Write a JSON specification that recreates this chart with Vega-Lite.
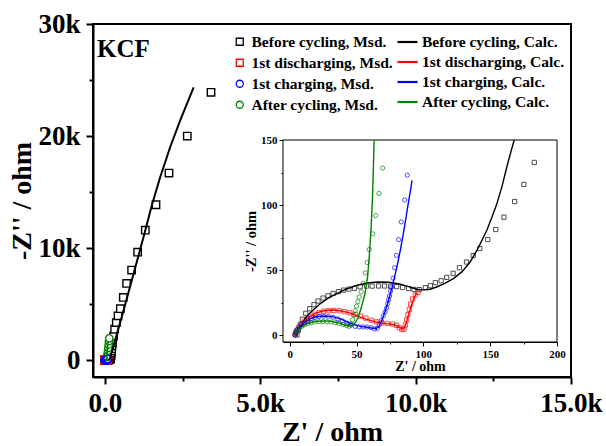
{
"$schema":"https://vega.github.io/schema/vega-lite/v6.json",
"width":478,"height":353,
"autosize":{"type":"none"},
"padding":{"left":93,"top":24,"right":35,"bottom":69},
"background":"white",
"config":{"view":{"stroke":"black","strokeWidth":2},"font":"Liberation Serif",
 "axis":{"grid":false,"domainColor":"black","tickColor":"black","labelColor":"black","titleColor":"black","labelFont":"Liberation Serif","titleFont":"Liberation Serif","labelFontWeight":"bold","titleFontWeight":"bold","labelOverlap":false,"labelBound":false,"labelFlush":false},
 "legend":{"labelFont":"Liberation Serif","labelFontWeight":"bold","labelColor":"black","labelLimit":0}},
"data":{"values":[
{"s":"Before cycling, Msd.","x":5.5,"y":0.5},{"s":"Before cycling, Msd.","x":6.5,"y":4},{"s":"Before cycling, Msd.","x":8,"y":8.5},{"s":"Before cycling, Msd.","x":9.5,"y":12.5},{"s":"Before cycling, Msd.","x":12,"y":17},{"s":"Before cycling, Msd.","x":15,"y":20.5},{"s":"Before cycling, Msd.","x":18.2,"y":23.6},{"s":"Before cycling, Msd.","x":21.2,"y":26.4},{"s":"Before cycling, Msd.","x":25,"y":28.7},{"s":"Before cycling, Msd.","x":28.7,"y":30.5},{"s":"Before cycling, Msd.","x":32.5,"y":32.3},{"s":"Before cycling, Msd.","x":36.5,"y":33.6},{"s":"Before cycling, Msd.","x":40.3,"y":34.8},{"s":"Before cycling, Msd.","x":44.3,"y":35.6},{"s":"Before cycling, Msd.","x":48.5,"y":36.2},{"s":"Before cycling, Msd.","x":52.7,"y":37.4},{"s":"Before cycling, Msd.","x":57.5,"y":37.9},{"s":"Before cycling, Msd.","x":61.7,"y":37.9},{"s":"Before cycling, Msd.","x":66.5,"y":38},{"s":"Before cycling, Msd.","x":71,"y":38},{"s":"Before cycling, Msd.","x":75.5,"y":37.8},{"s":"Before cycling, Msd.","x":80,"y":37.5},{"s":"Before cycling, Msd.","x":84.5,"y":36.8},{"s":"Before cycling, Msd.","x":89,"y":36},{"s":"Before cycling, Msd.","x":93,"y":35.3},{"s":"Before cycling, Msd.","x":97,"y":35.2},{"s":"Before cycling, Msd.","x":101.5,"y":36.7},{"s":"Before cycling, Msd.","x":105.3,"y":38.2},{"s":"Before cycling, Msd.","x":109,"y":40.5},{"s":"Before cycling, Msd.","x":113.3,"y":42},{"s":"Before cycling, Msd.","x":117.5,"y":44.6},{"s":"Before cycling, Msd.","x":122.3,"y":47.7},{"s":"Before cycling, Msd.","x":127,"y":52},{"s":"Before cycling, Msd.","x":132.3,"y":56.4},{"s":"Before cycling, Msd.","x":137.3,"y":61.3},{"s":"Before cycling, Msd.","x":142.2,"y":66.7},{"s":"Before cycling, Msd.","x":148.2,"y":73.6},{"s":"Before cycling, Msd.","x":154.2,"y":81.3},{"s":"Before cycling, Msd.","x":160.3,"y":90.8},{"s":"Before cycling, Msd.","x":168.3,"y":102.8},{"s":"Before cycling, Msd.","x":175.2,"y":115.9},{"s":"Before cycling, Msd.","x":183,"y":132.8},{"s":"Before cycling, Msd.","x":184,"y":155},{"s":"Before cycling, Msd.","x":185,"y":185},{"s":"Before cycling, Msd.","x":187,"y":225},{"s":"Before cycling, Msd.","x":189,"y":275},{"s":"Before cycling, Msd.","x":191.5,"y":340},{"s":"Before cycling, Msd.","x":195,"y":420},{"s":"Before cycling, Msd.","x":199,"y":520},{"s":"Before cycling, Msd.","x":204,"y":650},{"s":"Before cycling, Msd.","x":211,"y":820},{"s":"Before cycling, Msd.","x":220,"y":1030},{"s":"Before cycling, Msd.","x":230,"y":1290},{"s":"Before cycling, Msd.","x":241,"y":1550},{"s":"Before cycling, Msd.","x":251,"y":1790},{"s":"Before cycling, Msd.","x":283,"y":2140},{"s":"Before cycling, Msd.","x":316,"y":2770},{"s":"Before cycling, Msd.","x":370,"y":3360},{"s":"Before cycling, Msd.","x":425,"y":3960},{"s":"Before cycling, Msd.","x":500,"y":4600},{"s":"Before cycling, Msd.","x":595,"y":5600},{"s":"Before cycling, Msd.","x":702,"y":6850},{"s":"Before cycling, Msd.","x":863,"y":8040},{"s":"Before cycling, Msd.","x":1056,"y":9640},{"s":"Before cycling, Msd.","x":1303,"y":11600},{"s":"Before cycling, Msd.","x":1647,"y":13870},{"s":"Before cycling, Msd.","x":2065,"y":16700},{"s":"Before cycling, Msd.","x":2654,"y":20000},{"s":"Before cycling, Msd.","x":3417,"y":23900},
{"s":"1st discharging, Msd.","x":4,"y":0.5},{"s":"1st discharging, Msd.","x":4.5,"y":2},{"s":"1st discharging, Msd.","x":5.5,"y":4},{"s":"1st discharging, Msd.","x":7,"y":6.5},{"s":"1st discharging, Msd.","x":9,"y":9},{"s":"1st discharging, Msd.","x":11,"y":11},{"s":"1st discharging, Msd.","x":13.5,"y":13},{"s":"1st discharging, Msd.","x":16,"y":14.8},{"s":"1st discharging, Msd.","x":19,"y":16.3},{"s":"1st discharging, Msd.","x":22,"y":17.5},{"s":"1st discharging, Msd.","x":25.5,"y":18.5},{"s":"1st discharging, Msd.","x":29,"y":19},{"s":"1st discharging, Msd.","x":33,"y":19.2},{"s":"1st discharging, Msd.","x":37,"y":19},{"s":"1st discharging, Msd.","x":41,"y":18.3},{"s":"1st discharging, Msd.","x":45,"y":17.4},{"s":"1st discharging, Msd.","x":49,"y":16.2},{"s":"1st discharging, Msd.","x":53,"y":14.8},{"s":"1st discharging, Msd.","x":57,"y":13.3},{"s":"1st discharging, Msd.","x":61,"y":11.8},{"s":"1st discharging, Msd.","x":65,"y":10.5},{"s":"1st discharging, Msd.","x":69,"y":9.6},{"s":"1st discharging, Msd.","x":73,"y":9.2},{"s":"1st discharging, Msd.","x":77,"y":8.8},{"s":"1st discharging, Msd.","x":80,"y":7.8},{"s":"1st discharging, Msd.","x":82,"y":6},{"s":"1st discharging, Msd.","x":84,"y":4.6},{"s":"1st discharging, Msd.","x":85.5,"y":5},{"s":"1st discharging, Msd.","x":86.5,"y":8},{"s":"1st discharging, Msd.","x":87.5,"y":12},{"s":"1st discharging, Msd.","x":88.5,"y":16},{"s":"1st discharging, Msd.","x":89.5,"y":20},{"s":"1st discharging, Msd.","x":90.5,"y":24},{"s":"1st discharging, Msd.","x":92,"y":28},{"s":"1st discharging, Msd.","x":94,"y":31},{"s":"1st discharging, Msd.","x":96,"y":33},
{"s":"After cycling, Msd.","x":4,"y":0.5},{"s":"After cycling, Msd.","x":4.5,"y":2},{"s":"After cycling, Msd.","x":5.5,"y":3.8},{"s":"After cycling, Msd.","x":7,"y":5.5},{"s":"After cycling, Msd.","x":9,"y":7},{"s":"After cycling, Msd.","x":11,"y":8.2},{"s":"After cycling, Msd.","x":13.5,"y":9.2},{"s":"After cycling, Msd.","x":16,"y":9.8},{"s":"After cycling, Msd.","x":19,"y":10.3},{"s":"After cycling, Msd.","x":22,"y":10.6},{"s":"After cycling, Msd.","x":25,"y":10.7},{"s":"After cycling, Msd.","x":28,"y":10.6},{"s":"After cycling, Msd.","x":31,"y":10.3},{"s":"After cycling, Msd.","x":34,"y":9.8},{"s":"After cycling, Msd.","x":37,"y":9.2},{"s":"After cycling, Msd.","x":40,"y":8.4},{"s":"After cycling, Msd.","x":42.5,"y":7.6},{"s":"After cycling, Msd.","x":44.5,"y":7},{"s":"After cycling, Msd.","x":46,"y":9},{"s":"After cycling, Msd.","x":47,"y":12},{"s":"After cycling, Msd.","x":48,"y":15.5},{"s":"After cycling, Msd.","x":49,"y":19},{"s":"After cycling, Msd.","x":50,"y":22.5},{"s":"After cycling, Msd.","x":51,"y":26},{"s":"After cycling, Msd.","x":52,"y":29.5},{"s":"After cycling, Msd.","x":53.5,"y":33.5},{"s":"After cycling, Msd.","x":55,"y":40},{"s":"After cycling, Msd.","x":56.5,"y":48},{"s":"After cycling, Msd.","x":58,"y":56},{"s":"After cycling, Msd.","x":59.5,"y":66},{"s":"After cycling, Msd.","x":62,"y":78},{"s":"After cycling, Msd.","x":64.3,"y":92},{"s":"After cycling, Msd.","x":66.8,"y":109},{"s":"After cycling, Msd.","x":69.5,"y":128.5},{"s":"After cycling, Msd.","x":73,"y":160},{"s":"After cycling, Msd.","x":78,"y":230},{"s":"After cycling, Msd.","x":84,"y":330},{"s":"After cycling, Msd.","x":91,"y":470},{"s":"After cycling, Msd.","x":98,"y":640},{"s":"After cycling, Msd.","x":106,"y":850},{"s":"After cycling, Msd.","x":115,"y":1100},{"s":"After cycling, Msd.","x":125,"y":1400},{"s":"After cycling, Msd.","x":135,"y":1700},{"s":"After cycling, Msd.","x":145,"y":1950},
{"s":"1st charging, Msd.","x":4,"y":0.5},{"s":"1st charging, Msd.","x":4.5,"y":2.5},{"s":"1st charging, Msd.","x":5.5,"y":4.5},{"s":"1st charging, Msd.","x":7,"y":6.5},{"s":"1st charging, Msd.","x":9,"y":8.5},{"s":"1st charging, Msd.","x":11,"y":10},{"s":"1st charging, Msd.","x":13.5,"y":11.5},{"s":"1st charging, Msd.","x":16,"y":12.8},{"s":"1st charging, Msd.","x":19,"y":13.8},{"s":"1st charging, Msd.","x":22,"y":14.5},{"s":"1st charging, Msd.","x":25.5,"y":14.8},{"s":"1st charging, Msd.","x":29,"y":14.6},{"s":"1st charging, Msd.","x":32.5,"y":14},{"s":"1st charging, Msd.","x":36,"y":12.8},{"s":"1st charging, Msd.","x":39.5,"y":11.2},{"s":"1st charging, Msd.","x":43,"y":9.5},{"s":"1st charging, Msd.","x":46,"y":8},{"s":"1st charging, Msd.","x":49,"y":7},{"s":"1st charging, Msd.","x":52,"y":6.6},{"s":"1st charging, Msd.","x":55,"y":6.6},{"s":"1st charging, Msd.","x":58,"y":6.5},{"s":"1st charging, Msd.","x":61,"y":6},{"s":"1st charging, Msd.","x":63.5,"y":5},{"s":"1st charging, Msd.","x":65.5,"y":5.5},{"s":"1st charging, Msd.","x":67,"y":8},{"s":"1st charging, Msd.","x":68.5,"y":11.5},{"s":"1st charging, Msd.","x":70,"y":15},{"s":"1st charging, Msd.","x":71.3,"y":18},{"s":"1st charging, Msd.","x":72.5,"y":21},{"s":"1st charging, Msd.","x":73.3,"y":24.4},{"s":"1st charging, Msd.","x":74,"y":27.5},{"s":"1st charging, Msd.","x":74.7,"y":30.3},{"s":"1st charging, Msd.","x":75.5,"y":34},{"s":"1st charging, Msd.","x":76.3,"y":37.2},{"s":"1st charging, Msd.","x":77.3,"y":44},{"s":"1st charging, Msd.","x":78.5,"y":52},{"s":"1st charging, Msd.","x":79.8,"y":61.5},{"s":"1st charging, Msd.","x":81.5,"y":73.6},{"s":"1st charging, Msd.","x":83.5,"y":87.2},{"s":"1st charging, Msd.","x":86,"y":104},{"s":"1st charging, Msd.","x":88,"y":123},
{"s":"Before cycling, Calc.","x":5,"y":0},{"s":"Before cycling, Calc.","x":6.5,"y":4},{"s":"Before cycling, Calc.","x":8.5,"y":8},{"s":"Before cycling, Calc.","x":11,"y":12},{"s":"Before cycling, Calc.","x":14,"y":16},{"s":"Before cycling, Calc.","x":18,"y":20},{"s":"Before cycling, Calc.","x":23,"y":24.5},{"s":"Before cycling, Calc.","x":29,"y":28.8},{"s":"Before cycling, Calc.","x":35,"y":32},{"s":"Before cycling, Calc.","x":42,"y":35.5},{"s":"Before cycling, Calc.","x":50,"y":38.5},{"s":"Before cycling, Calc.","x":58,"y":40.3},{"s":"Before cycling, Calc.","x":66,"y":41},{"s":"Before cycling, Calc.","x":74,"y":40.8},{"s":"Before cycling, Calc.","x":82,"y":39.5},{"s":"Before cycling, Calc.","x":89,"y":37.5},{"s":"Before cycling, Calc.","x":95,"y":35.5},{"s":"Before cycling, Calc.","x":100,"y":35},{"s":"Before cycling, Calc.","x":105,"y":35.5},{"s":"Before cycling, Calc.","x":110,"y":37.2},{"s":"Before cycling, Calc.","x":116,"y":40},{"s":"Before cycling, Calc.","x":122.5,"y":43.6},{"s":"Before cycling, Calc.","x":129,"y":49},{"s":"Before cycling, Calc.","x":135,"y":56.4},{"s":"Before cycling, Calc.","x":141,"y":67},{"s":"Before cycling, Calc.","x":147.5,"y":80.8},{"s":"Before cycling, Calc.","x":151,"y":90},{"s":"Before cycling, Calc.","x":155,"y":101},{"s":"Before cycling, Calc.","x":159,"y":115},{"s":"Before cycling, Calc.","x":162.5,"y":129.5},{"s":"Before cycling, Calc.","x":165.5,"y":141},{"s":"Before cycling, Calc.","x":168,"y":150},{"s":"Before cycling, Calc.","x":250,"y":950},{"s":"Before cycling, Calc.","x":400,"y":2450},{"s":"Before cycling, Calc.","x":605,"y":4464},{"s":"Before cycling, Calc.","x":927,"y":7740},{"s":"Before cycling, Calc.","x":1249,"y":11010},{"s":"Before cycling, Calc.","x":1518,"y":13870},{"s":"Before cycling, Calc.","x":1786,"y":16370},{"s":"Before cycling, Calc.","x":2107,"y":19050},{"s":"Before cycling, Calc.","x":2429,"y":21430},{"s":"Before cycling, Calc.","x":2858,"y":24350},
{"s":"1st discharging, Calc.","x":4,"y":0},{"s":"1st discharging, Calc.","x":5.5,"y":3.5},{"s":"1st discharging, Calc.","x":8,"y":7.5},{"s":"1st discharging, Calc.","x":11,"y":11},{"s":"1st discharging, Calc.","x":15,"y":14.5},{"s":"1st discharging, Calc.","x":20,"y":17.3},{"s":"1st discharging, Calc.","x":26,"y":19},{"s":"1st discharging, Calc.","x":32,"y":19.5},{"s":"1st discharging, Calc.","x":38,"y":19},{"s":"1st discharging, Calc.","x":44,"y":17.5},{"s":"1st discharging, Calc.","x":50,"y":15.3},{"s":"1st discharging, Calc.","x":56,"y":13},{"s":"1st discharging, Calc.","x":62,"y":11},{"s":"1st discharging, Calc.","x":68,"y":9.6},{"s":"1st discharging, Calc.","x":74,"y":8.9},{"s":"1st discharging, Calc.","x":79,"y":8},{"s":"1st discharging, Calc.","x":82,"y":6.3},{"s":"1st discharging, Calc.","x":84,"y":5.2},{"s":"1st discharging, Calc.","x":85.5,"y":5.5},{"s":"1st discharging, Calc.","x":87,"y":9},{"s":"1st discharging, Calc.","x":89,"y":16},{"s":"1st discharging, Calc.","x":91,"y":23},{"s":"1st discharging, Calc.","x":93,"y":28.5},{"s":"1st discharging, Calc.","x":95,"y":33},
{"s":"1st charging, Calc.","x":4,"y":0},{"s":"1st charging, Calc.","x":5.5,"y":3.5},{"s":"1st charging, Calc.","x":8,"y":7},{"s":"1st charging, Calc.","x":11,"y":10},{"s":"1st charging, Calc.","x":15,"y":12.8},{"s":"1st charging, Calc.","x":20,"y":14.4},{"s":"1st charging, Calc.","x":26,"y":15},{"s":"1st charging, Calc.","x":32,"y":14.5},{"s":"1st charging, Calc.","x":38,"y":12.8},{"s":"1st charging, Calc.","x":43,"y":10.5},{"s":"1st charging, Calc.","x":48,"y":8.3},{"s":"1st charging, Calc.","x":53,"y":7},{"s":"1st charging, Calc.","x":58,"y":6.3},{"s":"1st charging, Calc.","x":62,"y":5.6},{"s":"1st charging, Calc.","x":64.5,"y":5.3},{"s":"1st charging, Calc.","x":66.5,"y":6.5},{"s":"1st charging, Calc.","x":68.5,"y":10.5},{"s":"1st charging, Calc.","x":70.5,"y":16},{"s":"1st charging, Calc.","x":72.5,"y":22},{"s":"1st charging, Calc.","x":74.5,"y":29},{"s":"1st charging, Calc.","x":76.5,"y":36.5},{"s":"1st charging, Calc.","x":78.5,"y":45},{"s":"1st charging, Calc.","x":80.5,"y":54},{"s":"1st charging, Calc.","x":82.5,"y":64},{"s":"1st charging, Calc.","x":84.5,"y":75},{"s":"1st charging, Calc.","x":86.5,"y":87},{"s":"1st charging, Calc.","x":88.5,"y":100},{"s":"1st charging, Calc.","x":90.5,"y":112},{"s":"1st charging, Calc.","x":91.5,"y":119},
{"s":"After cycling, Calc.","x":4,"y":0},{"s":"After cycling, Calc.","x":6,"y":3.5},{"s":"After cycling, Calc.","x":9,"y":6.5},{"s":"After cycling, Calc.","x":13,"y":9},{"s":"After cycling, Calc.","x":18,"y":10.5},{"s":"After cycling, Calc.","x":24,"y":11.2},{"s":"After cycling, Calc.","x":30,"y":11},{"s":"After cycling, Calc.","x":36,"y":9.8},{"s":"After cycling, Calc.","x":41,"y":8},{"s":"After cycling, Calc.","x":44.5,"y":7.3},{"s":"After cycling, Calc.","x":48,"y":8.5},{"s":"After cycling, Calc.","x":51,"y":13},{"s":"After cycling, Calc.","x":53.7,"y":21.8},{"s":"After cycling, Calc.","x":56.3,"y":32},{"s":"After cycling, Calc.","x":58.3,"y":44.9},{"s":"After cycling, Calc.","x":59.5,"y":60.2},{"s":"After cycling, Calc.","x":60.8,"y":80.8},{"s":"After cycling, Calc.","x":62,"y":106.4},{"s":"After cycling, Calc.","x":63.2,"y":150},{"s":"After cycling, Calc.","x":75,"y":700},{"s":"After cycling, Calc.","x":95,"y":1700}
]},
"layer":[
 {"layer":[
  {"transform":[{"filter":"indexof(datum.s,'Msd') >= 0"}],
   "mark":{"type":"point","filled":false,"size":55,"strokeWidth":1.4,"fill":"white","fillOpacity":1},
   "encoding":{
    "x":{"field":"x","type":"quantitative","scale":{"domain":[-380,15000],"nice":false,"zero":false},
      "axis":{"orient":"bottom","values":[0,2500,5000,7500,10000,12500,15000],"labelExpr":"datum.value === 0 ? '0.0' : (datum.value % 5000 === 0 ? format(datum.value/1000, '.1f') + 'k' : '')","labelFontSize":27,"labelPadding":6,"tickWidth":2,"tickSize":{"condition":{"test":"datum.value % 5000 === 0","value":7},"value":4},"domainWidth":2,"title":"Z' / ohm","titleFontSize":28,"titlePadding":2}},
    "y":{"field":"y","type":"quantitative","scale":{"domain":[-1500,30000],"nice":false,"zero":false},
      "axis":{"orient":"left","values":[0,5000,10000,15000,20000,25000,30000],"labelExpr":"datum.value === 0 ? '0' : (datum.value % 10000 === 0 ? (datum.value/1000) + 'k' : '')","labelFontSize":27,"labelPadding":6,"tickWidth":2,"tickSize":{"condition":{"test":"datum.value % 10000 === 0","value":7},"value":4},"domainWidth":2,"title":"-Z'' / ohm","titleFontSize":28,"titlePadding":1}},
    "color":{"field":"s","type":"nominal","scale":{"domain":["Before cycling, Msd.","1st discharging, Msd.","1st charging, Msd.","After cycling, Msd."],"range":["black","#ff0000","#0000ff","#008000"]},
      "legend":{"title":null,"orient":"none","legendX":139,"legendY":10,"padding":0,"symbolSize":49,"symbolStrokeWidth":1.3,"labelFontSize":15.5,"labelOffset":4,"rowPadding":4}},
    "shape":{"field":"s","type":"nominal","scale":{"domain":["Before cycling, Msd.","1st discharging, Msd.","1st charging, Msd.","After cycling, Msd."],"range":["square","square","circle","circle"]},
      "legend":{"title":null,"orient":"none","legendX":139,"legendY":10,"padding":0,"symbolSize":49,"symbolStrokeWidth":1.3,"labelFontSize":15.5,"labelOffset":4,"rowPadding":4}}}},
  {"transform":[{"filter":"indexof(datum.s,'Calc') >= 0"}],
   "mark":{"type":"line","strokeWidth":2},
   "encoding":{
    "x":{"field":"x","type":"quantitative"},
    "y":{"field":"y","type":"quantitative"},
    "stroke":{"field":"s","type":"nominal","scale":{"domain":["Before cycling, Calc.","1st discharging, Calc.","1st charging, Calc.","After cycling, Calc."],"range":["black","#ff0000","#0000ff","#008000"]},
      "legend":{"title":null,"orient":"none","legendX":303,"legendY":6.5,"padding":0,"symbolType":"stroke","symbolSize":400,"symbolStrokeWidth":2.2,"labelFontSize":15.5,"labelOffset":3,"rowPadding":0}}}},
  {"data":{"values":[{"t":"KCF"}]},
   "mark":{"type":"text","align":"left","baseline":"alphabetic","fontSize":25,"font":"Liberation Serif","fontWeight":"bold","color":"black"},
   "encoding":{"x":{"datum":-251,"type":"quantitative"},"y":{"datum":27055,"type":"quantitative"},"text":{"field":"t"}}}
 ]},
 {"layer":[
  {"data":{"values":[{}]},
   "mark":{"type":"rect","fill":"white","stroke":"black","strokeWidth":1},
   "encoding":{
    "x":{"datum":-5,"type":"quantitative","scale":{"domain":[-5,200],"range":[190,464],"nice":false,"zero":false},
      "axis":{"orient":"bottom","offset":-35,"values":[0,25,50,75,100,125,150,175,200],"labelExpr":"datum.value % 50 === 0 ? datum.label : ''","labelFontSize":11,"labelPadding":2,"tickWidth":1,"tickSize":{"condition":{"test":"datum.value % 50 === 0","value":4},"value":2},"domainWidth":1,"title":"Z' / ohm","titleFontSize":14,"titlePadding":0}},
    "x2":{"datum":200},
    "y":{"datum":-5,"type":"quantitative","scale":{"domain":[-5,150],"range":[318,116],"nice":false,"zero":false},
      "axis":{"orient":"left","offset":-190,"values":[0,25,50,75,100,125,150],"labelExpr":"datum.value % 50 === 0 ? datum.label : ''","labelFontSize":11,"labelPadding":2,"tickWidth":1,"tickSize":{"condition":{"test":"datum.value % 50 === 0","value":4},"value":2},"domainWidth":1,"title":"-Z'' / ohm","titleFontSize":14.5,"titlePadding":2}},
    "y2":{"datum":150}}},
  {"transform":[{"filter":"indexof(datum.s,'Msd') >= 0 && datum.y <= 150"}],
   "mark":{"type":"point","filled":false,"size":18,"strokeWidth":1},
   "encoding":{
    "x":{"field":"x","type":"quantitative"},
    "y":{"field":"y","type":"quantitative"},
    "color":{"field":"s","type":"nominal"},
    "shape":{"field":"s","type":"nominal"}}},
  {"transform":[{"filter":"indexof(datum.s,'Calc') >= 0 && datum.y <= 150"}],
   "mark":{"type":"line","strokeWidth":1.4},
   "encoding":{
    "x":{"field":"x","type":"quantitative"},
    "y":{"field":"y","type":"quantitative"},
    "stroke":{"field":"s","type":"nominal"}}}
 ]}
],
"resolve":{"scale":{"x":"independent","y":"independent"}}
}
